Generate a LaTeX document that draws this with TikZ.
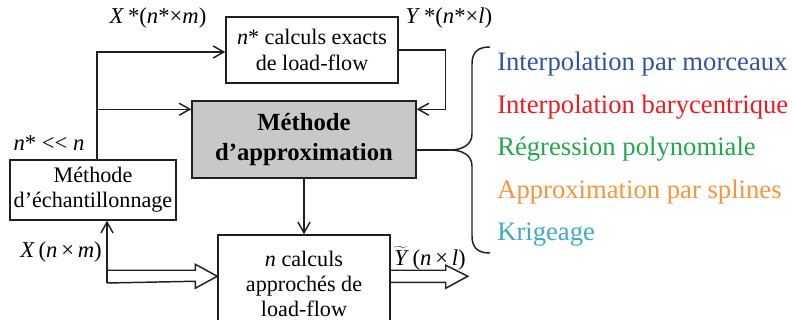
\documentclass[tikz,border=0pt]{standalone}
\usepackage{fontspec}
\setmainfont{Liberation Serif}
\usetikzlibrary{arrows.meta,calc}
\definecolor{cblue}{RGB}{47,84,165}
\definecolor{cred}{RGB}{237,28,36}
\definecolor{cgreen}{RGB}{34,168,76}
\definecolor{corange}{RGB}{247,148,62}
\definecolor{ccyan}{RGB}{64,170,200}
\definecolor{cgray}{RGB}{200,200,200}
\definecolor{cline}{RGB}{35,31,32}
\begin{document}
\begin{tikzpicture}[x=0.75pt,y=-0.75pt,
  box/.style={draw=cline,line width=1.1pt,inner sep=0pt,align=center,font=\fontsize{16.6}{19}\selectfont},
  arr/.style={draw=cline,line width=1.1pt,-{Straight Barb[length=8pt,width=9pt,line width=1.1pt]}},
  ln/.style={draw=cline,line width=1.1pt},
  lab/.style={font=\fontsize{17}{20}\selectfont,inner sep=0pt},
  item/.style={font=\fontsize{20}{24}\selectfont,anchor=base west,inner sep=0pt}]
\useasboundingbox (0,0) rectangle (792,320);

% boxes
\node[box,minimum width=129pt,minimum height=49.5pt] (top) at (312,50) {\textit{n}* calculs exacts\\de load-flow};
\node[box,fill=cgray,minimum width=168pt,minimum height=57.75pt,font=\bfseries\fontsize{18.5}{22}\selectfont] (app) at (304,139.5) {Méthode\\d’approximation};
\node[box,minimum width=124.5pt,minimum height=45pt] (ech) at (93,190) {Méthode\\d’échantillonnage};
\node[box,minimum width=129pt,minimum height=73.5pt,font=\fontsize{16.6}{18.5}\selectfont] (calc) at (304,284) {\textit{n} calculs\\approchés de\\load-flow};

% connectors
\coordinate (tr) at (97,52);
\draw[arr] (ech.north -| tr) -- (tr) -- (top.west |- tr);
\coordinate (gin) at ($(app.north west)+(0,9)$);
\draw[arr] (tr |- gin) -- (gin);
\coordinate (gin2) at ($(app.north east)+(0,9)$);
\coordinate (rc) at ($(gin2)+(29,0)$);
\draw[arr] (top.east) -| (rc) -- (gin2);
\draw[arr] (app.south) -- (calc.north);

\coordinate (xl) at (107,283);
\draw[arr] (xl) -- (xl |- ech.south);
\coordinate (hin) at ($(calc.north west)+(0,42)$);
\draw[ln,line join=miter] ($(hin)+(-111,-6)$) -- ($(hin)+(-22,-6)$) -- ($(hin)+(-22,-12)$) -- (hin) -- ($(hin)+(-22,12)$) -- ($(hin)+(-22,5)$) -- (xl);

\coordinate (hout) at ($(calc.north east)+(0,42)$);
\draw[ln,line join=miter] ($(hout)+(0,-6)$) -- ++(55,0) -- ++(0,-5) -- ++(22,11) -- ++(-22,12) -- ++(0,-6) -- ++(-55,0);

% brace
\coordinate (bt) at (450,150);
\draw[ln] (app.east |- bt) -- (bt);
\draw[ln] (490,47) .. controls (478,47) and (472,52) .. (472,64) -- (472,134) .. controls (472,145) and (462,150) .. (bt) .. controls (462,150) and (472,155) .. (472,166) -- (472,236) .. controls (472,248) and (478,253) .. (490,253);

% labels
\node[lab] (lx) at (158,18) {\textit{X}\,*(\textit{n}*×\textit{m})};
\node[lab] (ly) at (449,18) {\textit{Y}\,*(\textit{n}*×\textit{l})};
\node[lab] (lns) at (49,143) {\textit{n}* <\kern0pt< \textit{n}};
\node[lab] (lxn) at (61,252) {\textit{X}\,(\textit{n}\,×\,\textit{m})};
\node[lab] (lyt) at (430,258) {$\widetilde{\mbox{\textit{Y}}}$\,(\textit{n}\,×\,\textit{l})};

% list
\node[item,text=cblue] (i1) at (497,70.5) {Interpolation par morceaux};
\node[item,text=cred] (i2) at (497,113.1) {Interpolation barycentrique};
\node[item,text=cgreen] (i3) at (497,155.7) {Régression polynomiale};
\node[item,text=corange] (i4) at (497,198.3) {Approximation par splines};
\node[item,text=ccyan] (i5) at (497,240.9) {Krigeage};
\end{tikzpicture}
\end{document}
